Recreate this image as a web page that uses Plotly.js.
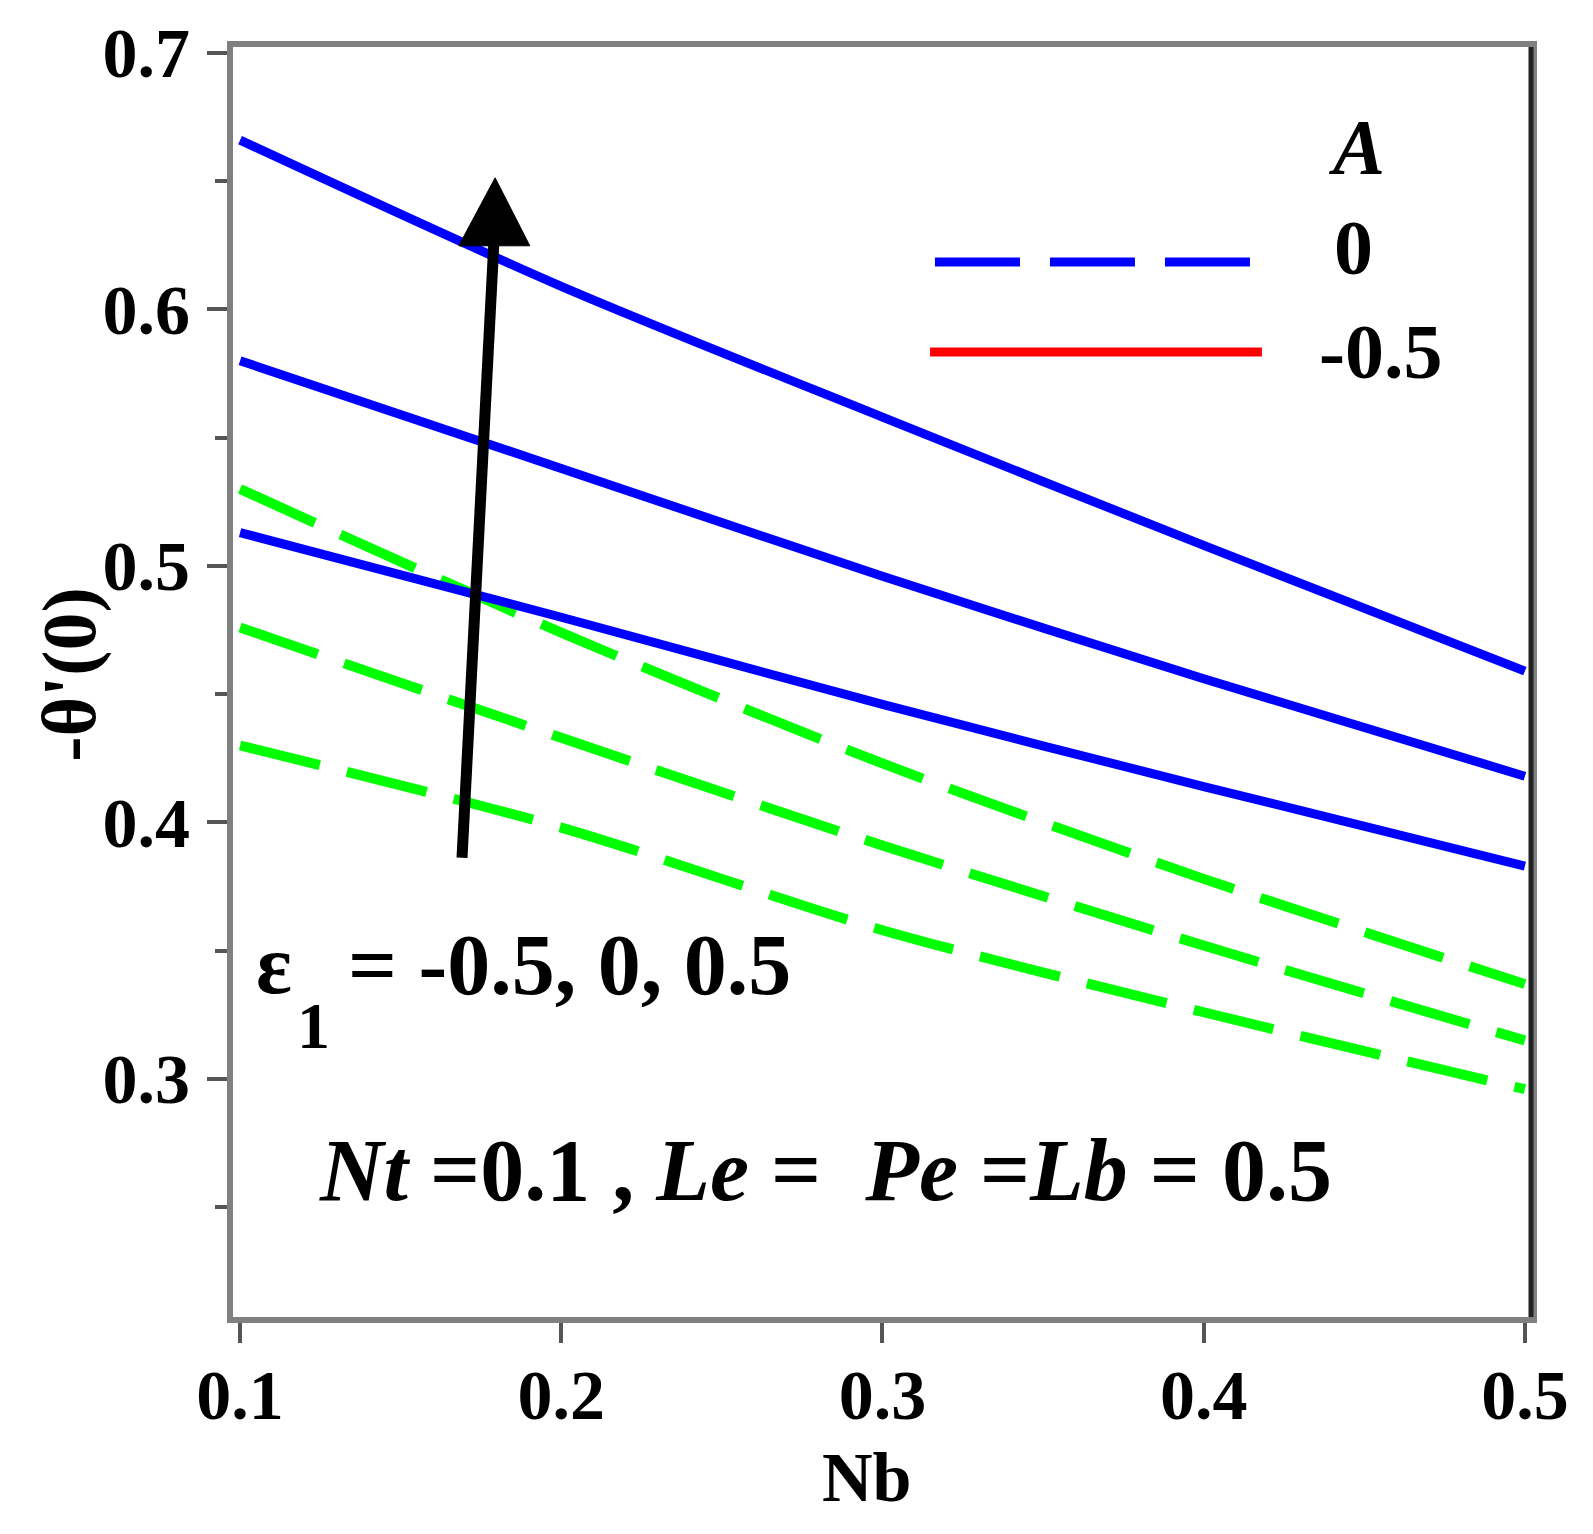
<!DOCTYPE html>
<html>
<head>
<meta charset="utf-8">
<script src="https://cdn.plot.ly/plotly-3.0.1.min.js"></script>
<style>
    html, body { margin: 0; padding: 0; background: #fff; }
    #placeholder { width: 1593px; height: 1534px; }
</style>
</head>
<body>
<div id="placeholder"></div>
<script>
// Nb values on the x axis
var nb = [0.1, 0.2, 0.3, 0.4, 0.5];

// -theta'(0), solid blue curves, eps1 = 0.5, 0, -0.5 (top to bottom)
var solidTop = [0.666, 0.609, 0.558, 0.508, 0.459];
var solidMid = [0.580, 0.538, 0.496, 0.456, 0.418];
var solidLow = [0.513, 0.480, 0.446, 0.414, 0.383];

// -theta'(0), dashed green curves (top to bottom)
var dashTop = [0.530, 0.474, 0.423, 0.378, 0.337];
var dashMid = [0.476, 0.433, 0.391, 0.352, 0.315];
var dashLow = [0.430, 0.398, 0.358, 0.326, 0.296];

var xTicks = [0.1, 0.2, 0.3, 0.4, 0.5];
var yTicks = [0.3, 0.4, 0.5, 0.6, 0.7];

( function() {
    'use strict';

    var serif = 'Liberation Serif, Times New Roman, serif';

    var curve = ( y, color, width, dash ) => ( {
        x: nb,
        y: y,
        type: 'scatter',
        mode: 'lines',
        showlegend: false,
        hoverinfo: 'skip',
        line: { color: color, width: width, dash: dash, shape: 'spline', smoothing: 0.8 }
    } );

    var data = [
        curve( dashTop, '#00ff00', 10, '82px,28px' ),
        curve( dashMid, '#00ff00', 10, '82px,28px' ),
        curve( dashLow, '#00ff00', 10, '82px,28px' ),
        curve( solidTop, '#0000ff', 9, 'solid' ),
        curve( solidMid, '#0000ff', 9, 'solid' ),
        curve( solidLow, '#0000ff', 9, 'solid' )
    ];

    // text placed on the paper, like the original figure
    var note = ( text, x, y, size, anchor, angle ) => ( {
        text: text,
        xref: 'paper', yref: 'paper',
        x: x, y: y,
        xanchor: anchor || 'left', yanchor: 'middle',
        textangle: angle || 0,
        showarrow: false,
        font: { family: serif, size: size, color: '#000', weight: 'bold' }
    } );

    var sp = '\u00a0';

    var annotations = [
        // legend texts
        note( '<i>A</i>', 0.8652, 0.9213, 78, 'center' ),
        note( '0', 0.8636, 0.8425, 78, 'center' ),
        note( '-0.5', 0.8844, 0.7606, 78, 'center' ),
        // parameter notes
        note( 'ε', 0.0162, 0.2772, 84 ),
        note( '1', 0.0478, 0.2299, 66 ),
        note( '= -0.5, 0, 0.5', 0.0868, 0.2772, 86 ),
        note( '<i>Nt</i> =0.1 , <i>Le</i> =' + sp + sp + '<i>Pe</i> =<i>Lb</i> = 0.5', 0.0647, 0.115, 88 ),
        // axis titles
        note( 'Nb', 0.488, -0.126, 70, 'center' ),
        note( "-θ'(0)", -0.126, 0.506, 76, 'center', -90 )
    ];

    var shapes = [
        // legend samples
        { type: 'line', xref: 'paper', yref: 'paper', x0: 0.5408, x1: 0.7835, y0: 0.8307, y1: 0.8307,
          line: { color: '#0000ff', width: 9, dash: '85px,30px' } },
        { type: 'line', xref: 'paper', yref: 'paper', x0: 0.537, x1: 0.7927, y0: 0.7598, y1: 0.7598,
          line: { color: '#ff0000', width: 9 } },
        // arrow: shaft and head
        { type: 'line', xref: 'x', yref: 'y', x0: 0.1691, y0: 0.3862, x1: 0.1791, y1: 0.628,
          line: { color: '#000', width: 11 } },
        { type: 'path', xref: 'x', yref: 'y', path: 'M 0.1681,0.6248 L 0.1794,0.6513 L 0.1902,0.6248 Z',
          fillcolor: '#000', line: { color: '#000', width: 1 } },
        // dark right border
        { type: 'line', xref: 'paper', yref: 'paper', x0: 1, x1: 1, y0: 0, y1: 1,
          line: { color: '#222', width: 5 } }
    ];

    var layout = {
        width: 1593,
        height: 1534,
        margin: { l: 233, r: 62, t: 47, b: 217 },
        paper_bgcolor: '#fff',
        plot_bgcolor: '#fff',
        showlegend: false,
        font: { family: serif, color: '#000' },
        xaxis: {
            range: [0.0978, 0.5019],
            tickvals: xTicks,
            ticktext: xTicks.map( v => v.toFixed(1) ),
            ticks: 'outside', ticklen: 20, tickwidth: 4, tickcolor: '#555',
            ticklabelstandoff: -8,
            showline: true, linecolor: '#808080', linewidth: 6, mirror: true,
            showgrid: false, zeroline: false,
            tickfont: { family: serif, size: 70, weight: 'bold' }
        },
        yaxis: {
            range: [0.2072, 0.7023],
            tickvals: yTicks,
            ticktext: yTicks.map( v => v.toFixed(1) ),
            ticks: 'outside', ticklen: 20, tickwidth: 4, tickcolor: '#555',
            minor: { dtick: 0.05, tick0: 0.25, ticks: 'outside', ticklen: 12, tickwidth: 4, tickcolor: '#555' },
            ticklabelstandoff: 3,
            showline: true, linecolor: '#808080', linewidth: 6, mirror: true,
            showgrid: false, zeroline: false,
            tickfont: { family: serif, size: 70, weight: 'bold' }
        },
        annotations: annotations,
        shapes: shapes
    };

    Plotly.newPlot( 'placeholder', data, layout, { staticPlot: true } );
} )();
</script>
</body>
</html>
